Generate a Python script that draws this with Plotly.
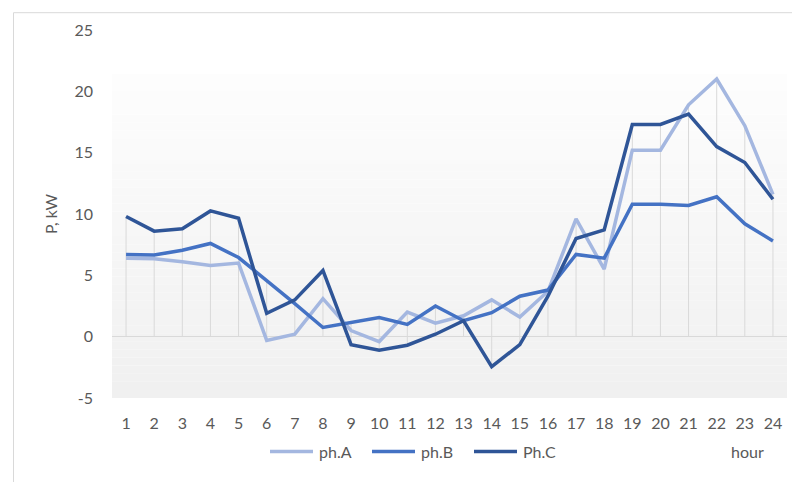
import plotly.graph_objects as go

# hourly active power per phase, kW
hours = list(range(1, 25))
ph_a = [6.4, 6.35, 6.1, 5.8, 6.0, -0.3, 0.2, 3.1, 0.5, -0.4, 2.0, 1.1,
        1.7, 3.0, 1.6, 3.7, 9.6, 5.5, 15.2, 15.2, 18.9, 21.0, 17.2, 11.6]
ph_b = [6.7, 6.65, 7.05, 7.6, 6.45, 4.6, 2.7, 0.75, 1.15, 1.55, 1.0, 2.5,
        1.3, 1.95, 3.3, 3.8, 6.7, 6.4, 10.8, 10.8, 10.7, 11.4, 9.2, 7.8]
ph_c = [9.8, 8.6, 8.8, 10.25, 9.65, 1.9, 3.0, 5.4, -0.65, -1.1, -0.7, 0.2,
        1.3, -2.45, -0.65, 3.3, 8.0, 8.7, 17.3, 17.3, 18.15, 15.5, 14.2, 11.2]
y_ticks = [-5, 0, 5, 10, 15, 20, 25]
names = ["ph.A", "ph.B", "Ph.C"]
colors = ["#a4b7e0", "#4472c4", "#2f5597"]

FONT = "Lato"
TXT = "#595959"

# page pixel -> paper coords (plot area spans x 112..787, y 26..398 on the page)
def px_x(p):
    return (p - 112) / 675

def px_y(p):
    return (398 - p) / 372

fig = go.Figure()

# drop lines from the extreme points to the zero axis
dx, dy = [], []
for i, h in enumerate(hours):
    vals = [ph_a[i], ph_b[i], ph_c[i]]
    dx += [h, h, None]
    dy += [max(0, max(vals)), min(0, min(vals)), None]
fig.add_trace(go.Scatter(x=dx, y=dy, mode="lines", line=dict(color="#d9d9d9", width=1),
                         hoverinfo="skip", showlegend=False))

for name, ys, col in zip(names, [ph_a, ph_b, ph_c], colors):
    fig.add_trace(go.Scatter(x=hours, y=ys, mode="lines", name=name, showlegend=False,
                             line=dict(color=col, width=3.5)))

# plot area gradient (white at top -> light grey at bottom)
shapes = []
n = 40
y_lo, y_hi = -5, 21.4
for k in range(n):
    t = k / (n - 1)
    g = int(round(240 + (253 - 240) * t))
    shapes.append(dict(type="rect", xref="x", yref="y", layer="below",
                       x0=0.5, x1=24.5,
                       y0=y_lo + (y_hi - y_lo) * k / n,
                       y1=y_lo + (y_hi - y_lo) * (k + 1) / n,
                       line=dict(width=0), fillcolor=f"rgb({g},{g},{g})"))
# outer chart border
shapes.append(dict(type="rect", xref="paper", yref="paper", layer="below",
                   x0=px_x(13.5), x1=1.2, y0=-0.3, y1=px_y(8.5),
                   line=dict(color="#d9d9d9", width=1), fillcolor="rgba(0,0,0,0)"))

# legend drawn by hand to get Excel-like long samples
annotations = []
leg_y = 452
for i, (name, col) in enumerate(zip(names, colors)):
    x0 = 270 + i * 102
    shapes.append(dict(type="line", xref="paper", yref="paper",
                       x0=px_x(x0), x1=px_x(x0 + 43), y0=px_y(leg_y), y1=px_y(leg_y),
                       line=dict(color=col, width=3.5)))
    annotations.append(dict(text=name, xref="paper", yref="paper", x=px_x(x0 + 47),
                            y=px_y(leg_y), xanchor="left", yanchor="middle",
                            showarrow=False, font=dict(family=FONT, size=16, color=TXT)))
annotations.append(dict(text="hour", xref="paper", yref="paper", x=px_x(747),
                        y=px_y(leg_y), xanchor="center", yanchor="middle", showarrow=False,
                        font=dict(family=FONT, size=16, color=TXT)))

fig.update_layout(
    width=792, height=474,
    margin=dict(l=104, r=13, t=18, b=84),
    paper_bgcolor="white", plot_bgcolor="white",
    font=dict(family=FONT, size=16, color=TXT),
    shapes=shapes,
    annotations=annotations,
    showlegend=False,
)
fig.update_xaxes(range=[0.5, 24.5], tickmode="array", tickvals=hours,
                 ticktext=[str(h) for h in hours], showgrid=False, zeroline=False,
                 showline=False, ticks="", ticklabelstandoff=14)
fig.update_yaxes(range=[-5, 25], tickmode="array", tickvals=y_ticks,
                 ticktext=[str(v) for v in y_ticks], showgrid=False, zeroline=True,
                 zerolinecolor="#d9d9d9", zerolinewidth=1, showline=False, ticks="",
                 ticklabelstandoff=18,
                 title=dict(text="P, kW", standoff=12, font=dict(family=FONT, size=16, color=TXT)))

fig.write_html("out.html")
